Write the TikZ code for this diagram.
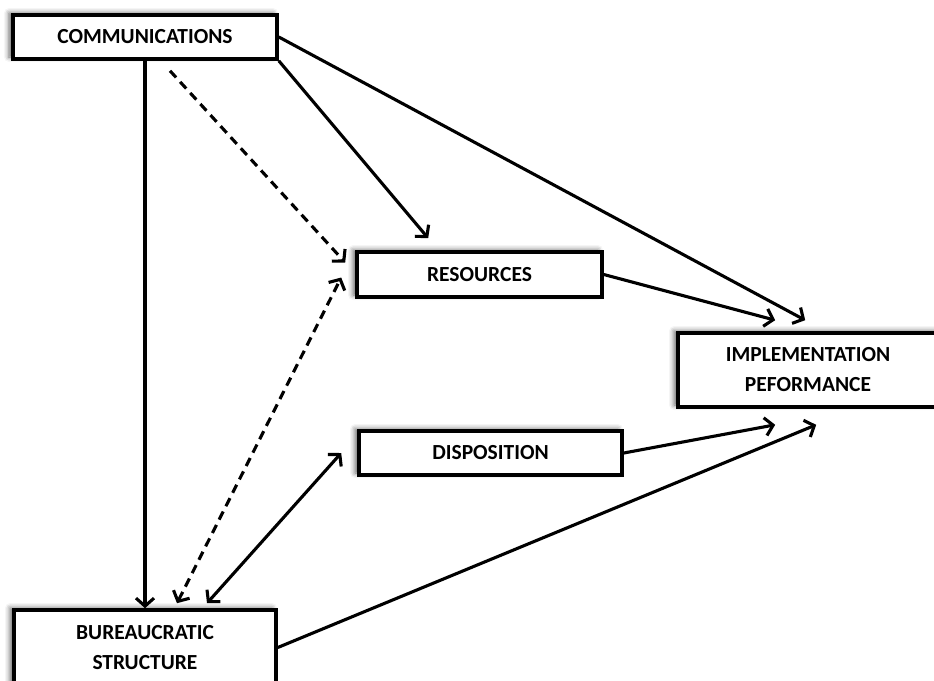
\documentclass[tikz,border=0pt]{standalone}
\usepackage{fontspec}
\setmainfont{Carlito}
\usetikzlibrary{arrows.meta,calc,shadows.blur}
\begin{document}
\begin{tikzpicture}[x=1pt,y=-1pt,
  box/.style={draw=black,line width=3.6pt,fill=white,inner sep=0pt,
    font=\fontsize{21.5}{30}\selectfont\bfseries,align=center,
    blur shadow={shadow xshift=-4pt,shadow yshift=2pt,shadow blur radius=5pt,shadow opacity=60}},
  conn/.style={line width=3.1pt,-{Straight Barb[length=8pt,width=18pt]}},
  dconn/.style={conn,dash pattern=on 9pt off 6pt},
  dbl/.style={line width=3.1pt,{Straight Barb[length=8pt,width=18pt]}-{Straight Barb[length=8pt,width=18pt]}}]
\useasboundingbox (0,0) rectangle (934,680);
\clip (0,0) rectangle (934,680);
\node[box,minimum width=264pt,minimum height=44pt] (comm) at (145,37) {COMMUNICATIONS};
\node[box,minimum width=245pt,minimum height=45pt] (res) at (479.5,274.5) {RESOURCES};
\node[box,minimum width=260pt,minimum height=74pt] (impl) at (808,370) {IMPLEMENTATION\\PEFORMANCE};
\node[box,minimum width=263pt,minimum height=44pt] (disp) at (490.5,453) {DISPOSITION};
\node[box,minimum width=262pt,minimum height=75pt] (bur) at (145,647.5) {BUREAUCRATIC\\STRUCTURE};
% connectors
\draw[conn] (comm.south) -- (bur.north);
\draw[dconn] ($(comm.south)+(25,10)$) -- ($(res.west)+(-10,-12)$);
\draw[conn] (comm.south east) -- ($(res.north west)+(73,-12)$);
\draw[conn] (comm.east) -- ($(impl.north west)+(129,-11)$);
\draw[conn] (res.east) -- ($(impl.north west)+(99,-11)$);
\draw[conn] (disp.east) -- ($(impl.south west)+(99,16)$);
\draw[conn] (bur.east) -- ($(impl.south west)+(140,16)$);
\draw[dbl] ($(bur.north)+(62,-5)$) -- ($(disp.west)+(-16,0)$);
\draw[dbl,dash pattern=on 9pt off 6pt] ($(bur.north)+(32,-5)$) -- ($(res.west)+(-14,3)$);
\end{tikzpicture}
\end{document}
